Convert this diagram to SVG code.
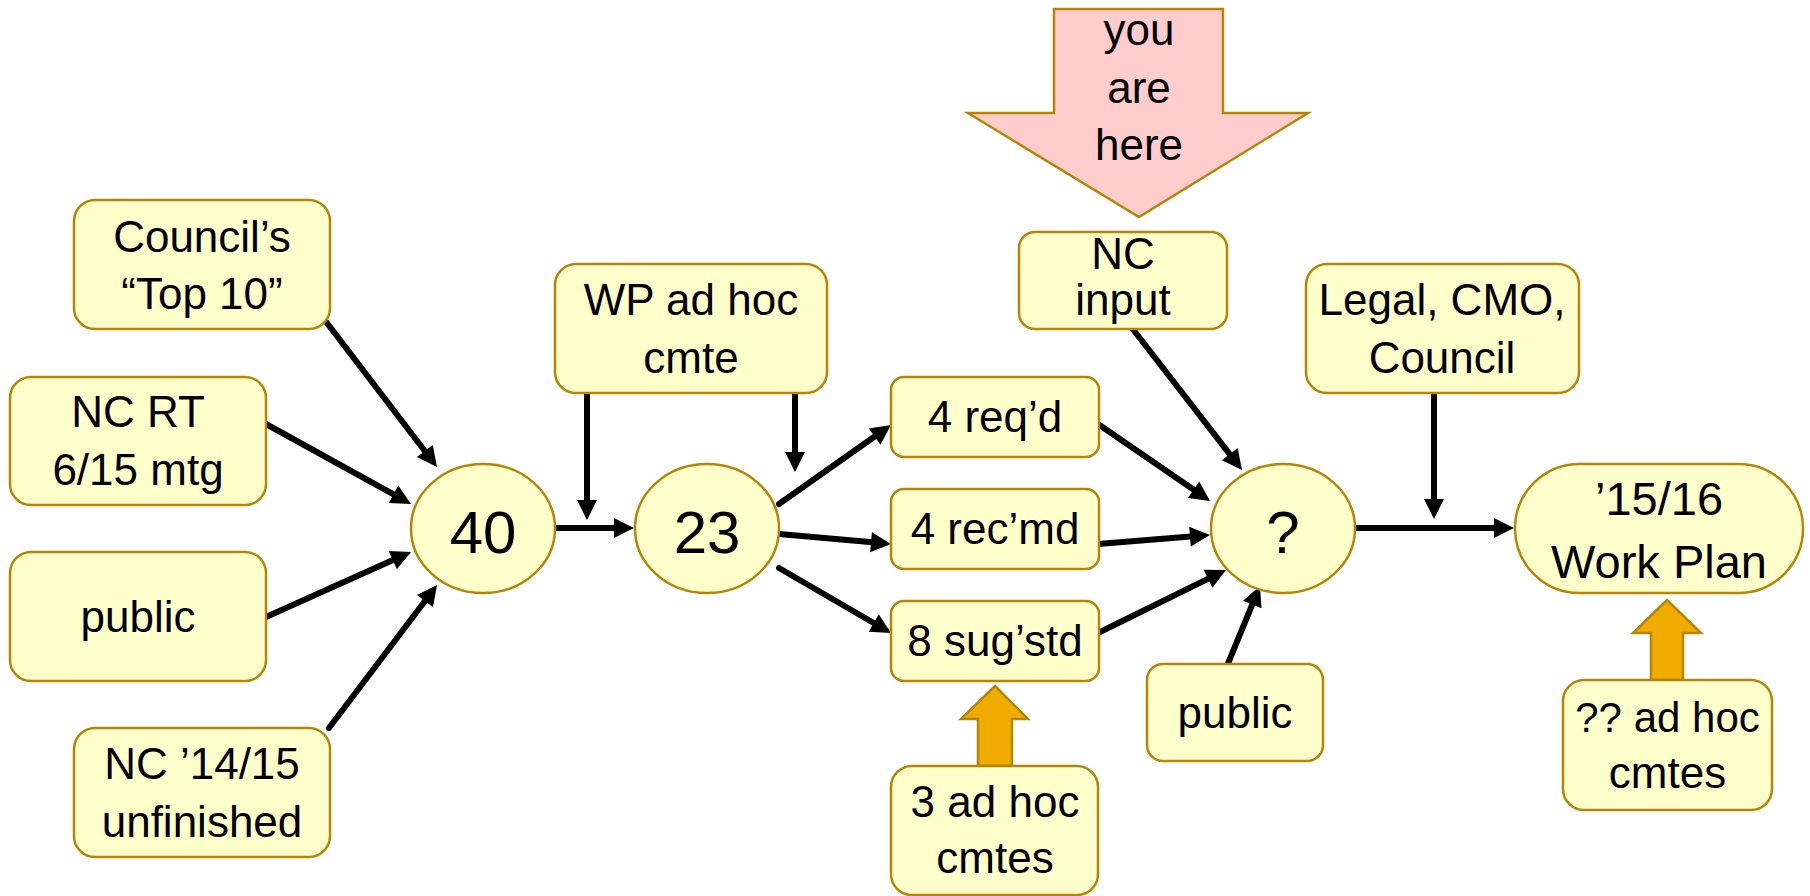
<svg xmlns="http://www.w3.org/2000/svg" width="1810" height="896" viewBox="0 0 1810 896">
<defs>
<style>
.box{fill:#FFFFCC;stroke:#B5850A;stroke-width:2.5}
.pink{fill:#FFCCCC;stroke:#B5850A;stroke-width:2.5}
.gold{fill:#F0AD00;stroke:#B5850A;stroke-width:2.5}
.t{font-family:"Liberation Sans",Arial,sans-serif;font-size:44px;fill:#000;text-anchor:middle}
.big{font-size:60px}
.wp{font-size:47px}
.c{fill:none;stroke:#000;stroke-width:6;stroke-linecap:round;marker-end:url(#ah)}
</style>
<marker id="ah" markerUnits="userSpaceOnUse" markerWidth="20" markerHeight="20" refX="10" refY="10" orient="auto" overflow="visible">
<path d="M0,0 L20,10 L0,20 z" fill="#000"/>
</marker>
</defs>
<rect width="1810" height="896" fill="#fff"/>

<g id="connectors">
<line class="c" x1="327" y1="323" x2="430.9" y2="459"/>
<line class="c" x1="266" y1="424" x2="402.2" y2="499.2"/>
<line class="c" x1="266" y1="617" x2="401.9" y2="556.1"/>
<line class="c" x1="329" y1="728" x2="431" y2="593"/>
<line class="c" x1="555" y1="528" x2="624" y2="528"/>
<line class="c" x1="587" y1="393" x2="587" y2="510"/>
<line class="c" x1="795" y1="393" x2="795" y2="462"/>
<line class="c" x1="779" y1="504" x2="882.8" y2="430.8"/>
<line class="c" x1="779" y1="534" x2="881" y2="543.1"/>
<line class="c" x1="779" y1="568" x2="882.4" y2="628"/>
<line class="c" x1="1132" y1="328" x2="1235.9" y2="462.1"/>
<line class="c" x1="1098" y1="424" x2="1201.8" y2="495.3"/>
<line class="c" x1="1098" y1="544" x2="1200" y2="535.8"/>
<line class="c" x1="1098" y1="633" x2="1217" y2="574.4"/>
<line class="c" x1="1227" y1="666" x2="1256.1" y2="595.2"/>
<line class="c" x1="1355" y1="528" x2="1504" y2="528"/>
<line class="c" x1="1434" y1="393" x2="1434" y2="509"/>
</g>

<g id="you-are-here">
<polygon class="pink" points="1054,9 1223,9 1223,113 1308,113 1139,217 968,113 1054,113"/>
<text class="t" x="1139" y="45">you</text>
<text class="t" x="1139" y="103">are</text>
<text class="t" x="1139" y="160">here</text>
</g>

<g id="n-council-top10">
<rect class="box" x="74" y="200" width="256" height="129" rx="21"/>
<text class="t" x="202" y="252">Council’s</text>
<text class="t" x="202" y="309">“Top 10”</text>
</g>
<g id="n-ncrt">
<rect class="box" x="10" y="377" width="256" height="128" rx="21"/>
<text class="t" x="138" y="427">NC RT</text>
<text class="t" x="138" y="485">6/15 mtg</text>
</g>
<g id="n-public1">
<rect class="box" x="10" y="552" width="256" height="129" rx="21"/>
<text class="t" x="138" y="632">public</text>
</g>
<g id="n-nc1415">
<rect class="box" x="74" y="728" width="256" height="129" rx="21"/>
<text class="t" x="202" y="779">NC ’14/15</text>
<text class="t" x="202" y="837">unfinished</text>
</g>
<g id="n-40">
<ellipse class="box" cx="483" cy="528.5" rx="72" ry="64.5"/>
<text class="t big" x="483" y="553">40</text>
</g>
<g id="n-wp-adhoc">
<rect class="box" x="555" y="264" width="272" height="129" rx="21"/>
<text class="t" x="691" y="315">WP ad hoc</text>
<text class="t" x="691" y="373">cmte</text>
</g>
<g id="n-23">
<ellipse class="box" cx="707" cy="528.5" rx="72" ry="64.5"/>
<text class="t big" x="707" y="553">23</text>
</g>
<g id="n-reqd">
<rect class="box" x="891" y="377" width="208" height="80" rx="13"/>
<text class="t" x="995" y="432">4 req’d</text>
</g>
<g id="n-recmd">
<rect class="box" x="891" y="489" width="208" height="80" rx="13"/>
<text class="t" x="995" y="544">4 rec’md</text>
</g>
<g id="n-sugstd">
<rect class="box" x="891" y="601" width="208" height="80" rx="13"/>
<text class="t" x="995" y="656">8 sug’std</text>
</g>
<g id="n-3adhoc">
<polygon class="gold" points="995,686 1028,719 1012,719 1012,766 978,766 978,719 961,719"/>
<rect class="box" x="891" y="766" width="207" height="129" rx="21"/>
<text class="t" x="995" y="817">3 ad hoc</text>
<text class="t" x="995" y="873">cmtes</text>
</g>
<g id="n-ncinput">
<rect class="box" x="1019" y="232" width="208" height="97" rx="16"/>
<text class="t" x="1123" y="269">NC</text>
<text class="t" x="1123" y="315">input</text>
</g>
<g id="n-q">
<ellipse class="box" cx="1283" cy="528.5" rx="72" ry="64.5"/>
<text class="t big" x="1283" y="553">?</text>
</g>
<g id="n-public2">
<rect class="box" x="1147" y="664" width="176" height="97" rx="16"/>
<text class="t" x="1235" y="728">public</text>
</g>
<g id="n-legal">
<rect class="box" x="1306" y="264" width="273" height="129" rx="21"/>
<text class="t" x="1442" y="315">Legal, CMO,</text>
<text class="t" x="1442" y="373">Council</text>
</g>
<g id="n-workplan">
<rect class="box" x="1515" y="464" width="288" height="129" rx="64.5"/>
<text class="t wp" x="1659" y="515">’15/16</text>
<text class="t wp" x="1659" y="578">Work Plan</text>
</g>
<g id="n-adhoc2">
<polygon class="gold" points="1667,600 1701,633 1683,633 1683,680 1651,680 1651,633 1633,633"/>
<rect class="box" x="1563" y="680" width="209" height="130" rx="21"/>
<text class="t" x="1667.5" y="732" style="font-size:42px">?? ad hoc</text>
<text class="t" x="1667.5" y="788">cmtes</text>
</g>
</svg>
